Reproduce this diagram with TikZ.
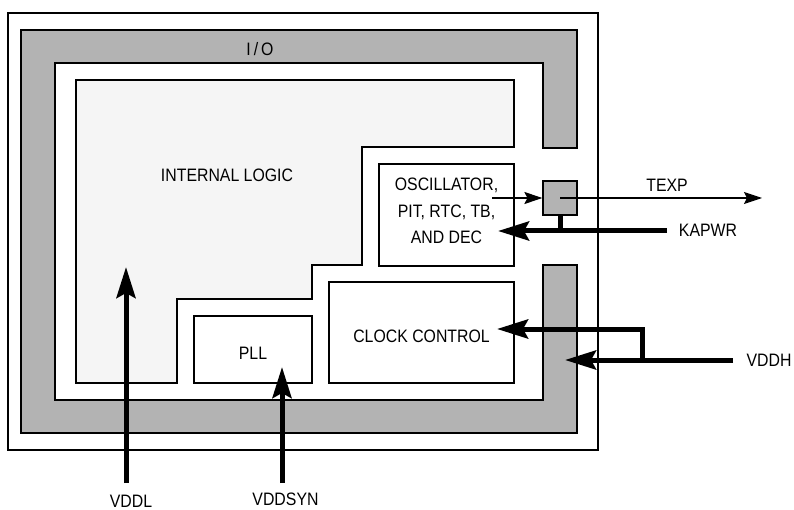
\documentclass[tikz,border=0pt]{standalone}
\usepackage{fontspec}
\setmainfont{Liberation Sans}[FakeStretch=0.88]
\definecolor{padgray}{HTML}{B3B3B3}
\definecolor{logicgray}{HTML}{F5F5F5}
\usetikzlibrary{arrows.meta, positioning}

\begin{document}
\begin{tikzpicture}[
    x=1pt, y=-1pt,
    font=\fontsize{18}{26.5}\selectfont,
    blk/.style={rectangle, draw, line width=1.2pt, fill=white,
                inner sep=0pt, align=center},
    lbl/.style={inner sep=0pt, align=center},
    sig/.style={-{Stealth[length=18pt, width=12pt, inset=3pt]}, line width=1.2pt},
    pwr/.style={-{Stealth[length=31pt, width=19pt, inset=5pt]}, line width=5pt}
  ]
  \useasboundingbox (0,0) rectangle (794,510);
  \draw[line width=1.5pt] (8,13) rectangle (598,450);

  % I/O ring, open on the right side
  \draw[fill=padgray, line width=1.2pt]
    (577,148) -- (577,30) -- (21,30) -- (21,433) -- (577,433) -- (577,265)
    -- (543,265) -- (543,400) -- (55,400) -- (55,63) -- (543,63) -- (543,148) -- cycle;
  \node[lbl] (io) at (260,49.5) {I\,/\,O};

  % internal logic
  \draw[fill=logicgray, line width=1.2pt]
    (76,80) -- (514,80) -- (514,147) -- (362,147) -- (362,265) -- (312,265)
    -- (312,299) -- (177,299) -- (177,383) -- (76,383) -- cycle;
  \node[lbl] (logic) at (227,175.5) {INTERNAL LOGIC};

  \node[blk, minimum width=135pt, minimum height=102pt] (osc) at (446.5,215) {};
  \node[lbl] (osctxt) at (446.5,211) {OSCILLATOR,\\ PIT, RTC, TB,\\ AND DEC};
  \node[blk, minimum width=118pt, minimum height=67pt,
        text height=20pt, text depth=0pt] (pll) at (253,349.5) {PLL};
  \node[blk, minimum width=185pt, minimum height=101pt,
        text height=20pt, text depth=0pt] (clk) at (421.5,332.5) {CLOCK CONTROL};
  \node[blk, minimum size=34pt, fill=padgray] (pad) at (560,198) {};

  % pins
  \node[lbl] (texp)   at (667,185)   {TEXP};
  \node[lbl] (kapwr)  at (708,230)   {KAPWR};
  \node[lbl] (vddh)   at (769,360.5) {VDDH};
  \node[lbl] (vddl)   at (131,501.5) {VDDL};
  \node[lbl] (vddsyn) at (285.5,499.5) {VDDSYN};

  \coordinate (texp-src)  at (492,198);
  \coordinate (texp-dst)  at (762,198);
  \coordinate (kapwr-src) at (667,231);
  \coordinate (kapwr-dst) at (498,231);
  \coordinate (vddh-src)  at (733,360);
  \coordinate (vddh-dst)  at (565,360);
  \coordinate (vddh-fork) at (642,360);
  \coordinate (clk-in)    at (497,329);
  \coordinate (vddl-src)  at (126,483);
  \coordinate (vddl-dst)  at (126,267);
  \coordinate (vddsyn-src) at (282,483);
  \coordinate (vddsyn-dst) at (282,367);

  \draw[sig] (texp-src) -- (pad.west);
  \draw[sig] (pad.center) -- (texp-dst);
  \draw[pwr] (kapwr-src) -- (kapwr-dst);
  \draw[line width=5pt] (pad.south) -- (pad.south |- kapwr-src);
  \draw[pwr] (vddh-src) -- (vddh-dst);
  \draw[pwr] (vddh-fork) |- (clk-in);
  \draw[pwr] (vddl-src) -- (vddl-dst);
  \draw[pwr] (vddsyn-src) -- (vddsyn-dst);
\end{tikzpicture}
\end{document}
